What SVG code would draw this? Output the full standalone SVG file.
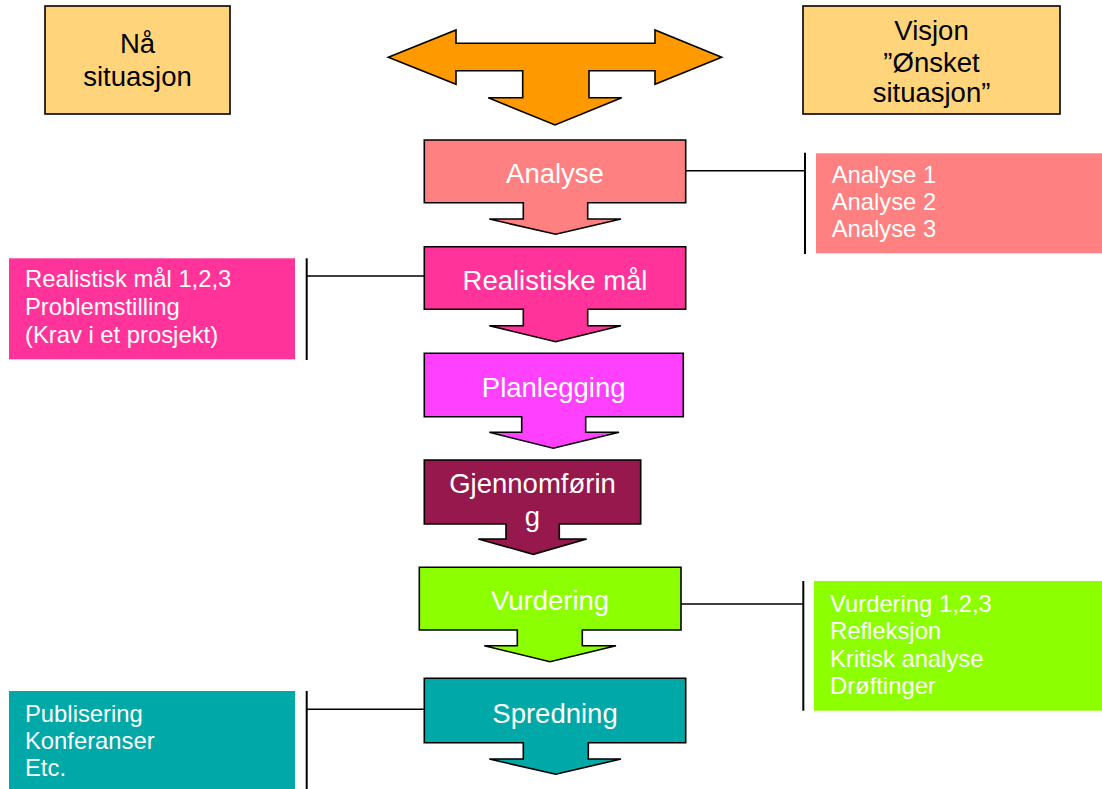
<svg xmlns="http://www.w3.org/2000/svg" width="1102" height="789" viewBox="0 0 1102 789">
<style>
text{font-family:"Liberation Sans",Arial,sans-serif}
.big{font-size:27.5px;text-anchor:middle}
.dark{fill:#000}
.lt{fill:#fff}
.side{font-size:23.8px;fill:#fff}
.shape{stroke:#000;stroke-width:1.6;stroke-linejoin:miter}
.ln{stroke:#000;stroke-width:1.5;fill:none}
.br{stroke:#000;stroke-width:2;fill:none}
</style>
<rect width="1102" height="789" fill="#fff"/>
<g id="na">
<rect class="shape" x="45" y="6" width="185" height="108" fill="#FFD47A"/>
<text class="big dark" x="137.5" y="53">Nå</text>
<text class="big dark" x="137.5" y="86">situasjon</text>
</g>
<g id="visjon">
<rect class="shape" x="803" y="6" width="257" height="108" fill="#FFD47A"/>
<text class="big dark" x="931.5" y="40">Visjon</text>
<text class="big dark" x="931.5" y="72">”Ønsket</text>
<text class="big dark" x="931.5" y="102">situasjon”</text>
</g>
<g id="orange">
<polygon class="shape" fill="#FF9900" points="388.3,57.3 456,30 456,43.3 655,43.3 655,30 721.7,57.3 655,84.3 655,70.7 589,70.7 589,97.7 621.7,97.7 555,125 488.3,97.7 522.7,97.7 522.7,70.7 456,70.7 456,84.3"/>
</g>
<g id="connectors">
<line class="ln" x1="686" y1="170.7" x2="805" y2="170.7"/>
<line class="br" x1="805" y1="152.7" x2="805" y2="254"/>
<line class="ln" x1="307" y1="276" x2="424" y2="276"/>
<line class="br" x1="306.7" y1="258.3" x2="306.7" y2="360"/>
<line class="ln" x1="681" y1="604" x2="803.3" y2="604"/>
<line class="br" x1="803.3" y1="581" x2="803.3" y2="710.7"/>
<line class="ln" x1="307" y1="709.3" x2="424" y2="709.3"/>
<line class="br" x1="306.7" y1="691" x2="306.7" y2="789"/>
</g>
<g id="analyse">
<polygon class="shape" fill="#FF8080" points="424.3,140 685.7,140 685.7,202.7 587.7,202.7 587.7,219 621,219 555.7,234.3 489.3,219 523.3,219 523.3,202.7 424.3,202.7"/>
<text class="big lt" x="555" y="182.7">Analyse</text>
</g>
<g id="realistiske">
<polygon class="shape" fill="#FF3399" points="424.3,246.7 685.7,246.7 685.7,309.3 587.7,309.3 587.7,325.7 621,325.7 555.7,341.7 489.3,325.7 523.3,325.7 523.3,309.3 424.3,309.3"/>
<text class="big lt" x="555" y="290">Realistiske mål</text>
</g>
<g id="planlegging">
<polygon class="shape" fill="#FF40FF" points="424.3,353.3 683.3,353.3 683.3,416.7 585.7,416.7 585.7,432.3 619,432.3 553.3,448.3 489.3,432.3 521.7,432.3 521.7,416.7 424.3,416.7"/>
<text class="big lt" x="553.7" y="396.7">Planlegging</text>
</g>
<g id="gjennomforing">
<polygon class="shape" fill="#96184C" points="424.3,460 640.7,460 640.7,524 559.3,524 559.3,539 586.7,539 533.3,554.3 478.3,539 506,539 506,524 424.3,524"/>
<text class="big lt" x="532.5" y="493.3">Gjennomførin</text>
<text class="big lt" x="532.5" y="526.3">g</text>
</g>
<g id="vurdering">
<polygon class="shape" fill="#8CFF00" points="419.3,567.3 681,567.3 681,630 582.3,630 582.3,645.7 616,645.7 550,661.7 484.3,645.7 517.3,645.7 517.3,630 419.3,630"/>
<text class="big lt" x="550" y="610">Vurdering</text>
</g>
<g id="spredning">
<polygon class="shape" fill="#00A8A8" points="424.3,678.3 685.7,678.3 685.7,742.7 588.3,742.7 588.3,759 621,759 555.7,774.3 489.3,759 523.3,759 523.3,742.7 424.3,742.7"/>
<text class="big lt" x="555" y="722.7">Spredning</text>
</g>
<g id="analyse-list">
<rect x="816" y="153.3" width="286" height="100" fill="#FF8080"/>
<text class="side" x="831.7" y="183.3">Analyse 1</text>
<text class="side" x="831.7" y="210.3">Analyse 2</text>
<text class="side" x="831.7" y="237.3">Analyse 3</text>
</g>
<g id="realistisk-list">
<rect x="9" y="258.3" width="286" height="101" fill="#FF3399"/>
<text class="side" x="25" y="286.7">Realistisk mål 1,2,3</text>
<text class="side" x="25" y="315">Problemstilling</text>
<text class="side" x="25" y="343.3">(Krav i et prosjekt)</text>
</g>
<g id="vurdering-list">
<rect x="814" y="581" width="288" height="129.7" fill="#8CFF00"/>
<text class="side" x="830" y="611.7">Vurdering 1,2,3</text>
<text class="side" x="830" y="639">Refleksjon</text>
<text class="side" x="830" y="666.5">Kritisk analyse</text>
<text class="side" x="830" y="693.5">Drøftinger</text>
</g>
<g id="spredning-list">
<rect x="9" y="691" width="286" height="98" fill="#00A8A8"/>
<text class="side" x="25" y="721.7">Publisering</text>
<text class="side" x="25" y="748.7">Konferanser</text>
<text class="side" x="25" y="775.7">Etc.</text>
</g>
</svg>
